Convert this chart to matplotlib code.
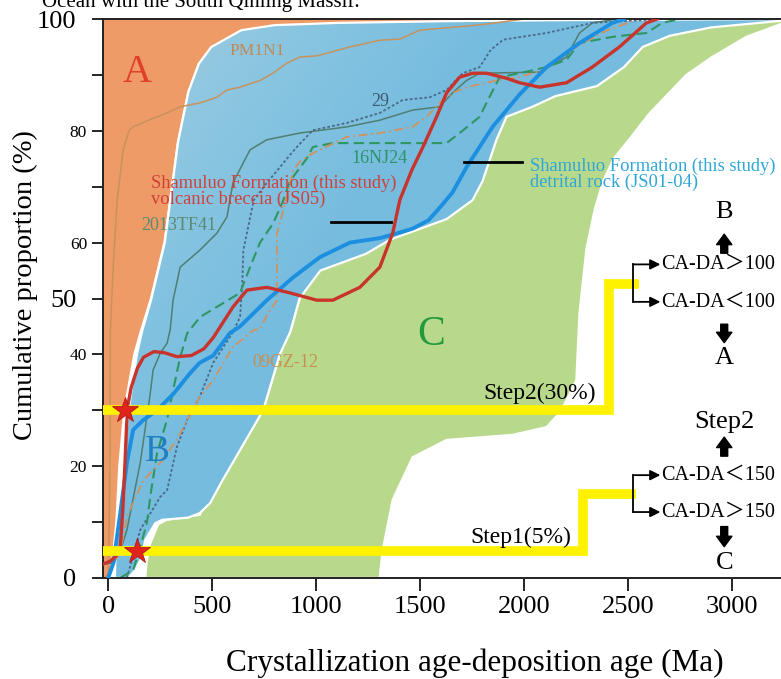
import numpy as np
import matplotlib
matplotlib.use("Agg")
import matplotlib.pyplot as plt
from matplotlib.ticker import FixedLocator, FixedFormatter
from matplotlib.colors import LinearSegmentedColormap

plt.rcParams['font.family'] = ['Liberation Serif', 'DejaVu Serif']

# field A (orange) right edge, age (Ma) vs cumulative %
a_edge_x = [5, 20, 34, 48, 72, 120, 150, 200, 265, 330, 380, 430, 490, 634, 800, 1100, 1600, 2200, 3300]
a_edge_y = [0, 5, 10, 20, 30, 40, 44, 50, 60, 78, 87, 92, 95, 98, 98.9, 99.3, 99.6, 99.8, 100]

# field B (blue): left edge going up, then lower edge coming back
b_left_x = [32, 36, 55, 72, 98, 138, 162, 208, 272, 336, 386, 436, 496, 640, 800, 1100, 1600, 2200, 3300]
b_left_y = [0, 5, 10, 20, 30, 40, 44, 50, 60, 78, 87, 92, 95, 98, 98.9, 99.3, 99.6, 99.8, 100]
b_low_x = [3300, 2900, 2700, 2570, 2480, 2350, 2150, 2040, 1915, 1867, 1800, 1752, 1627, 1464, 1354,
           1240, 1020, 920, 875, 825, 745, 550, 490, 440, 384, 259, 226, 178, 163, 130, 96]
b_low_y = [99.9, 98.5, 97, 95, 91.4, 88, 86.2, 84.3, 82.5, 78.4, 71, 67.6, 64.2, 62, 60.5,
           58, 55, 50, 44, 40, 30, 17.5, 13.4, 11.6, 10.8, 10.4, 9.8, 6.8, 3.8, 1.4, 0]

# field C (green): upper-left edge then right edge
c_left_x = [178, 185, 200, 240, 280, 440, 490, 555, 750, 830, 880, 925, 1025, 1245, 1360, 1470,
            1630, 1755, 1805, 1870, 1920, 2045, 2155, 2355, 2490, 2580, 2710, 2910, 3300]
c_left_y = [0, 3, 6, 9.6, 10.4, 11.3, 15.6, 20.6, 30.6, 40.6, 44.6, 50.6, 55.6, 58.6, 61, 62.6,
            64.9, 68.2, 71.8, 79, 83.2, 85, 86.9, 88.8, 92.2, 95.8, 97.8, 99.2, 100.5]
c_right_x = [3300, 3068, 2904, 2780, 2664, 2600, 2506, 2430, 2380, 2340, 2300, 2266, 2251, 2204,
             2170, 2108, 1944, 1627, 1464, 1368, 1320, 1305]
c_right_y = [100, 96.8, 93.2, 90, 85.5, 83, 78.5, 75, 71, 66, 59, 47.4, 35.4, 31.8,
             29.5, 27, 25.6, 24.7, 21.6, 14, 5, 0]

# cumulative curves
js05_x = [-25, 10, 40, 58, 70, 80, 88, 95, 110, 140, 170, 220, 270, 330, 400, 460, 505, 600, 667,
          763, 874, 1003, 1080, 1210, 1306, 1368, 1402, 1460, 1512, 1579, 1627, 1690, 1752, 1819,
          1915, 1978, 2074, 2204, 2328, 2458, 2588, 2640]
js05_y = [2.5, 3, 4, 5.5, 12, 20, 27, 31, 34, 37.5, 39.5, 40.5, 40.3, 39.6, 39.8, 41, 43, 48.5, 51.5,
          52, 51, 49.7, 49.7, 52, 55.6, 61.7, 67.6, 73, 77, 82.5, 86.8, 89.6, 90.3, 90.3,
          89.4, 88.6, 87.8, 88.6, 91.4, 95, 99.3, 100]

js01_x = [0, 25, 58, 90, 120, 170, 235, 315, 395, 440, 505, 585, 634, 763, 890, 1018, 1162, 1306,
          1402, 1464, 1540, 1600, 1656, 1723, 1848, 1978, 2108, 2266, 2424, 2480]
js01_y = [0, 2.7, 11.6, 20.6, 26.5, 28.3, 30, 33, 36.7, 38.5, 39.8, 43.8, 45, 49.7, 53.8, 57.4, 60,
          60.8, 61.8, 62.5, 64, 66.5, 69, 73.5, 80.7, 86.5, 91.4, 95.7, 99.3, 100]

s29_x = [90, 154, 250, 283, 330, 380, 440, 505, 600, 634, 645, 650, 700, 763, 826, 870, 907, 984,
         1147, 1306, 1416, 1546, 1627, 1704, 1786, 1840, 1900, 2108, 2328, 2664]
s29_y = [0, 8.6, 14.5, 15.7, 23.4, 28.3, 32.4, 38.5, 44, 46.7, 53, 58.7, 67.6, 70.7, 73.5, 75.5,
         77.1, 80.1, 81.4, 83.2, 85.5, 86, 87.3, 90.3, 91.4, 94.5, 96.3, 97.5, 99.3, 100]

tf41_x = [-25, 24, 60, 90, 154, 200, 216, 250, 283, 298, 312, 346, 442, 523, 571, 600, 682, 763,
          922, 1147, 1306, 1464, 1594, 1656, 1723, 1786, 2074, 2204, 2266, 2328, 2450]
tf41_y = [2.5, 2.7, 5, 8.6, 20.6, 32.4, 37.2, 40.2, 42, 44.4, 49.7, 55.6, 58.7, 61.7, 64.6, 70.7,
          76.6, 78.4, 79.6, 80.7, 81.9, 83.7, 84.3, 86.8, 89, 90.3, 90.5, 93.2, 97.5, 99.3, 100]

nj24_x = [58, 120, 154, 187, 202, 235, 283, 312, 346, 380, 442, 523, 634, 682, 730, 794, 842, 874,
          954, 984, 1080, 1627, 1690, 1786, 1819, 1882, 1978, 2108, 2204, 2266, 2424, 2588, 2664, 2750]
nj24_y = [0, 1.4, 5.5, 10, 14.5, 22.4, 28.3, 33.6, 39.5, 43.8, 46.7, 48.5, 51, 55.6, 60, 63.5,
          67.6, 71, 75, 77.1, 77.8, 77.8, 79.6, 82.5, 85, 89.6, 90.3, 91.4, 92.7, 95.7, 96.8,
          97.5, 99.3, 100]

gz12_x = [-10, 60, 90, 170, 250, 330, 380, 440, 505, 570, 600, 700, 730, 763, 812, 812, 842, 870,
          890, 922, 984, 1147, 1306, 1464, 1531, 1594, 1656, 1723, 1867, 1978, 2100, 2250, 2400, 2550]
gz12_y = [0, 5, 11, 17.5, 20.6, 24.7, 28.3, 32.4, 35.4, 39.5, 41.3, 44.4, 44.5, 47, 49.7, 61.7,
          65.8, 70, 73, 74.5, 76, 78.9, 79.6, 80.7, 82.5, 85, 86.8, 87.8, 89, 89.6, 91, 95, 98, 100]

pm1n1_x = [0, 5, 8, 10, 24, 43, 72, 100, 120, 200, 283, 346, 442, 523, 571, 634, 730, 792, 859,
           922, 1003, 1162, 1306, 1402, 1498, 1800, 2000]
pm1n1_y = [0, 10, 20, 43.8, 55.6, 67.6, 76.6, 80, 80.7, 82, 83.2, 84.3, 85, 86, 87.3, 87.8, 89,
           90.3, 92.1, 93.2, 93.4, 95, 96.2, 96.4, 98, 99, 100]

# threshold steps and marked points
step1_x = [-25, 2285, 2285, 2540]
step1_y = [4.8, 4.8, 15.0, 15.0]
step2_x = [-25, 2410, 2410, 2554]
step2_y = [30, 30, 52.6, 52.6]
star_x = [82, 140]
star_y = [30, 4.8]

x_ticks = [0, 500, 1000, 1500, 2000, 2500, 3000]
y_major = [0, 50, 100]
y_minor = [10, 20, 30, 40, 60, 70, 80, 90]
y_minor_labels = ['', '20', '', '40', '60', '', '80', '']

orange = '#ef9b67'
green = '#b8d98c'
yellow = '#fff200'
blue_shades = LinearSegmentedColormap.from_list('b', ['#a3cce0', '#88c5e1', '#76bcdf'])

fig = plt.figure(figsize=(7.81, 6.79), dpi=100)
ax = fig.add_axes([103 / 781, 101 / 679, 1 - 103 / 781, 559 / 679])
ax.set_xlim(-25, 3235)
ax.set_ylim(0, 100)

# fields
ax.fill([-25] + a_edge_x + [-25], [0] + a_edge_y + [100], fc=orange, ec='none', zorder=1)
ax.fill(c_left_x + c_right_x, c_left_y + c_right_y, fc=green, ec='white', lw=1.6, zorder=1.1)
b_patch = ax.fill(b_left_x + b_low_x, b_left_y + b_low_y, fc='none', ec='white', lw=1.6, zorder=1.3)[0]

# field B shading, lighter towards the upper left
gx, gy = np.meshgrid(np.linspace(0, 1, 300), np.linspace(0, 1, 300))
shade = np.clip(0.45 + 1.8 * (gx - 0.1) - 1.1 * (gy - 0.7), 0, 1)
im = ax.imshow(shade, cmap=blue_shades, extent=[-25, 3235, 0, 100], origin='lower',
               aspect='auto', interpolation='bilinear', zorder=1.2)
im.set_clip_path(b_patch)

# reference curves
ax.plot(pm1n1_x, pm1n1_y, color='#c8925e', lw=1.1, zorder=2)
ax.plot(tf41_x, tf41_y, color='#4f7f70', lw=1.1, zorder=2)
ax.plot(s29_x, s29_y, color='#4a6a88', lw=1.3, ls=(0, (1.5, 1.2)), zorder=2)
ax.plot(nj24_x, nj24_y, color='#2e9660', lw=1.5, ls=(0, (5, 2.5)), zorder=2)
ax.plot(gz12_x, gz12_y, color='#d1925c', lw=1.3, ls=(0, (5, 2, 1, 2)), zorder=2)

# this study
ax.plot(js01_x, js01_y, color='#1c8fe0', lw=2.8, zorder=3)
ax.plot(js05_x, js05_y, color='#c8332b', lw=2.4, zorder=3.1)

# steps
ax.plot(step1_x, step1_y, color=yellow, lw=7, solid_joinstyle='miter', solid_capstyle='butt', zorder=4)
ax.plot(step2_x, step2_y, color=yellow, lw=7, solid_joinstyle='miter', solid_capstyle='butt', zorder=4)
ax.plot(star_x, star_y, ls='none', marker='*', ms=19, mfc='#e0241c', mec='#b01818', mew=0.6, zorder=5)

# leader lines
ax.plot([1070, 1360], [63.7, 63.7], color='k', lw=2, zorder=5)
ax.plot([1710, 1990], [74.5, 74.5], color='k', lw=2, zorder=5)

# field letters and labels
ax.text(140, 90.5, 'A', color='#e0402a', fontsize=29, ha='center', va='center', zorder=6)
ax.text(235, 22.5, 'B', color='#1f7fc0', fontsize=27, ha='center', va='center', zorder=6)
ax.text(1555, 43.5, 'C', color='#229a3c', fontsize=30, ha='center', va='center', zorder=6)

ax.text(716, 94.3, 'PM1N1', color='#c08a55', fontsize=12.5, ha='center', va='center', zorder=6)
ax.text(1306, 85.2, '29', color='#3f5a70', fontsize=13, ha='center', va='center', zorder=6)
ax.text(1306, 75.1, '16NJ24', color='#2a9466', fontsize=13, ha='center', va='center', zorder=6)
ax.text(340, 63, '2013TF41', color='#5a8a70', fontsize=13, ha='center', va='center', zorder=6)
ax.text(850, 38.5, '09GZ-12', color='#c89050', fontsize=13, ha='center', va='center', zorder=6)

ax.text(205, 69.2, 'Shamuluo Formation (this study)\nvolcanic breccia (JS05)', color='#d0403a',
        fontsize=13.3, ha='left', va='center', linespacing=0.9, zorder=6)
ax.text(2026, 72.2, 'Shamuluo Formation (this study)\ndetrital rock (JS01-04)', color='#2ea6d8',
        fontsize=13.3, ha='left', va='center', linespacing=0.9, zorder=6)

ax.text(2075, 33.0, 'Step2(30%)', fontsize=17, ha='center', va='center', zorder=6)
ax.text(1983, 7.3, 'Step1(5%)', fontsize=17, ha='center', va='center', zorder=6)

# decision keys on the right
cjk = ['Liberation Serif', 'Noto Sans CJK SC']
kx = 2962
ax.text(kx, 65.5, 'B', fontsize=19, ha='center', va='center')
ax.text(kx, 39.3, 'A', fontsize=19, ha='center', va='center')
ax.text(kx, 27.9, 'Step2', fontsize=19, ha='center', va='center')
ax.text(kx, 2.7, 'C', fontsize=19, ha='center', va='center')
fat = dict(arrowstyle='simple,head_width=1.1,head_length=0.75,tail_width=0.5',
           fc='k', ec='k', mutation_scale=10, shrinkA=0, shrinkB=0)
ax.annotate('', xy=(kx, 61.5), xytext=(kx, 58.1), arrowprops=fat)
ax.annotate('', xy=(kx, 42.1), xytext=(kx, 45.4), arrowprops=fat)
ax.annotate('', xy=(kx, 25.2), xytext=(kx, 21.8), arrowprops=fat)
ax.annotate('', xy=(kx, 5.6), xytext=(kx, 9.2), arrowprops=fat)

thin = dict(arrowstyle='-|>,head_width=0.3,head_length=0.6', color='k', lw=1.3,
            shrinkA=0, shrinkB=0, mutation_scale=10)
for y_top, y_bot, t_top, t_bot in [(56.1, 49.4, 'CA-DA＞100', 'CA-DA＜100'),
                                   (18.4, 11.8, 'CA-DA＜150', 'CA-DA＞150')]:
    ax.plot([2525, 2525], [y_top, y_bot], color='k', lw=1.3, zorder=5)
    ax.annotate('', xy=(2655, y_top), xytext=(2525, y_top), arrowprops=thin)
    ax.annotate('', xy=(2655, y_bot), xytext=(2525, y_bot), arrowprops=thin)
    ax.text(2660, y_top, t_top, fontsize=14.5, ha='left', va='center', family=cjk)
    ax.text(2660, y_bot, t_bot, fontsize=14.5, ha='left', va='center', family=cjk)

# axes styling
for side in ['left', 'bottom', 'top']:
    ax.spines[side].set_linewidth(1.4)
    ax.spines[side].set_color('#222222')
ax.spines['right'].set_visible(False)

ax.set_xticks(x_ticks)
ax.set_xticklabels([str(v) for v in x_ticks])
ax.tick_params(axis='x', direction='out', length=9, width=1.2, labelsize=19, pad=4)
ax.yaxis.set_major_locator(FixedLocator(y_major))
ax.yaxis.set_major_formatter(FixedFormatter([str(v) for v in y_major]))
ax.yaxis.set_minor_locator(FixedLocator(y_minor))
ax.yaxis.set_minor_formatter(FixedFormatter(y_minor_labels))
ax.tick_params(axis='y', which='major', direction='out', length=8, width=1.2, labelsize=19, pad=11)
ax.tick_params(axis='y', which='minor', direction='out', length=8, width=1.2, labelsize=12.5, pad=3.5)
ax.tick_params(top=False, right=False)

fig.text(25 / 781, 1 - 285 / 679, 'Cumulative proportion (%)', rotation=90, fontsize=20.5,
         ha='center', va='center')
fig.text(475 / 781, 1 - 663 / 679, 'Crystallization age-deposition age (Ma)', fontsize=22.5,
         ha='center', va='center')
fig.text(42 / 781, 1 - 7 / 679, 'Ocean with the South Qinling Massif.', fontsize=15,
         ha='left', va='baseline')

fig.savefig('out.png', dpi=100)
